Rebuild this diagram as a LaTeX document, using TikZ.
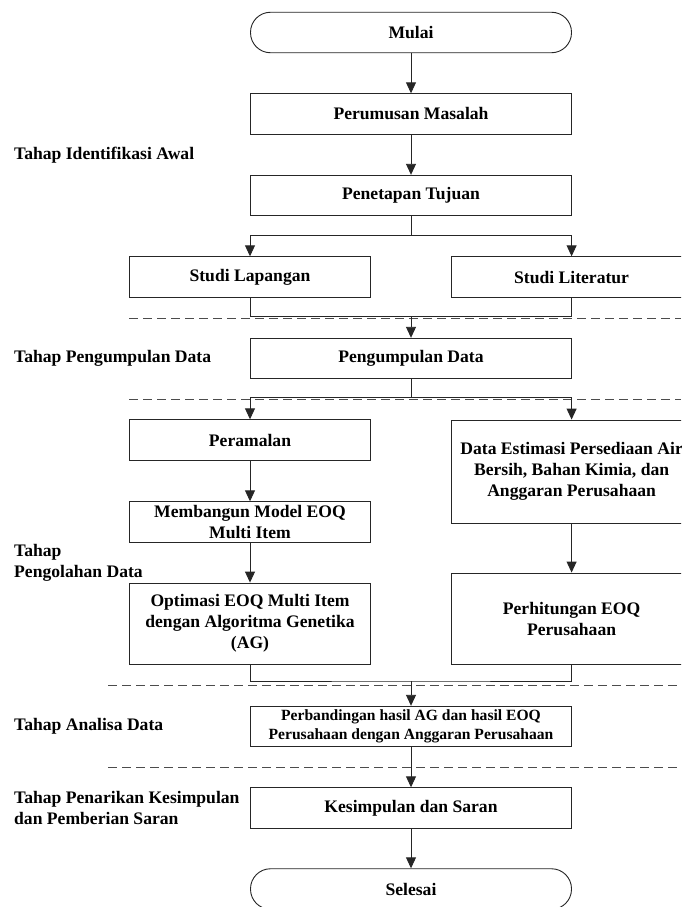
\documentclass[tikz,border=0pt]{standalone}
\usepackage{fontspec}
\setmainfont{Liberation Serif}
\usetikzlibrary{arrows.meta}
\begin{document}
\begin{tikzpicture}[x=1pt,y=-1pt,
  every node/.style={font=\fontsize{17.6}{21}\selectfont\bfseries, inner sep=0pt, align=center},
  wbox/.style={draw=black!85, line width=0.9pt, minimum width=321pt, minimum height=40.5pt},
  sbox/.style={draw=black!85, line width=0.9pt, minimum width=241pt},
  term/.style={wbox, rounded corners=20pt},
  lbl/.style={anchor=west, align=left},
  conn/.style={draw=black!85, line width=0.9pt},
  arr/.style={conn, -{Triangle[length=11pt,width=10pt]}},
  sep/.style={draw=black!70, line width=0.9pt, dash pattern=on 9pt off 5pt}]
\useasboundingbox (0,0) rectangle (681,907);
\clip (0,0) rectangle (681,907);
\fill[white] (0,0) rectangle (681,907);

% nodes
\node[term] (mulai) at (411,32.5) {Mulai};
\node[wbox] (perumusan) at (411,114) {Perumusan Masalah};
\node[wbox] (penetapan) at (411,195.5) {Penetapan Tujuan};
\node[sbox, minimum height=40.5pt] (lapangan) at (250,277) {Studi Lapangan};
\node[sbox, minimum height=40.5pt] (literatur) at (571.6,277) {Studi Literatur};
\node[wbox] (pengumpulan) at (411,358.5) {Pengumpulan Data};
\node[sbox, minimum height=40.5pt] (peramalan) at (250,440) {Peramalan};
\node[sbox, minimum height=103pt] (estimasi) at (571.6,471.5) {Data Estimasi Persediaan Air\\Bersih, Bahan Kimia, dan\\Anggaran Perusahaan};
\node[sbox, minimum height=40.5pt] (membangun) at (250,522) {Membangun Model EOQ\\Multi Item};
\node[sbox, minimum height=81pt] (optimasi) at (250,623.5) {Optimasi EOQ Multi Item\\dengan Algoritma Genetika\\(AG)};
\node[sbox, minimum height=91pt] (perhitungan) at (571.6,618.5) {Perhitungan EOQ\\Perusahaan};
\node[wbox, font=\fontsize{15.6}{19}\selectfont\bfseries] (perbandingan) at (411,726.5) {Perbandingan hasil AG dan hasil EOQ\\Perusahaan dengan Anggaran Perusahaan};
\node[wbox] (kesimpulan) at (411,808) {Kesimpulan dan Saran};
\node[term] (selesai) at (411,889) {Selesai};

% stage labels
\node[lbl] (l1) at (14,155) {Tahap Identifikasi Awal};
\node[lbl] (l2) at (14,358) {Tahap Pengumpulan Data};
\node[lbl] (l3) at (14,562.5) {Tahap\\Pengolahan Data};
\node[lbl] (l4) at (14,726) {Tahap Analisa Data};
\node[lbl] (l5) at (14,808) {Tahap Penarikan Kesimpulan\\dan Pemberian Saran};

% separators
\coordinate (d1a) at (129,318.5); \coordinate (d1b) at (681,318.5);
\coordinate (d2a) at (129,399.5); \coordinate (d2b) at (681,399.5);
\coordinate (d3a) at (108,685); \coordinate (d3b) at (681,685);
\coordinate (d4a) at (108,767); \coordinate (d4b) at (681,767);
\draw[sep] (d1a) -- (d1b);
\draw[sep] (d2a) -- (d2b);
\draw[sep] (d3a) -- (d3b);
\draw[sep] (d4a) -- (d4b);

% connectors
\coordinate (s1) at (411,235);
\coordinate (m1) at (411,316.5);
\coordinate (s2) at (411,397.5);
\coordinate (m2) at (411,681);

\draw[arr] (mulai) -- (perumusan);
\draw[arr] (perumusan) -- (penetapan);
\draw[conn] (penetapan) -- (s1);
\draw[arr] (s1) -| (lapangan);
\draw[arr] (s1) -| (literatur);
\draw[conn] (lapangan) |- (m1) -| (literatur);
\draw[arr] (m1) -- (pengumpulan);
\draw[conn] (pengumpulan) -- (s2);
\draw[arr] (s2) -| (peramalan);
\draw[arr] (s2) -| (estimasi);
\draw[arr] (peramalan) -- (membangun);
\draw[arr] (membangun) -- (optimasi);
\draw[arr] (estimasi) -- (perhitungan);
\draw[conn] (optimasi) |- (m2) -| (perhitungan);
\draw[arr] (m2) -- (perbandingan);
\draw[arr] (perbandingan) -- (kesimpulan);
\draw[arr] (kesimpulan) -- (selesai);
\end{tikzpicture}
\end{document}
